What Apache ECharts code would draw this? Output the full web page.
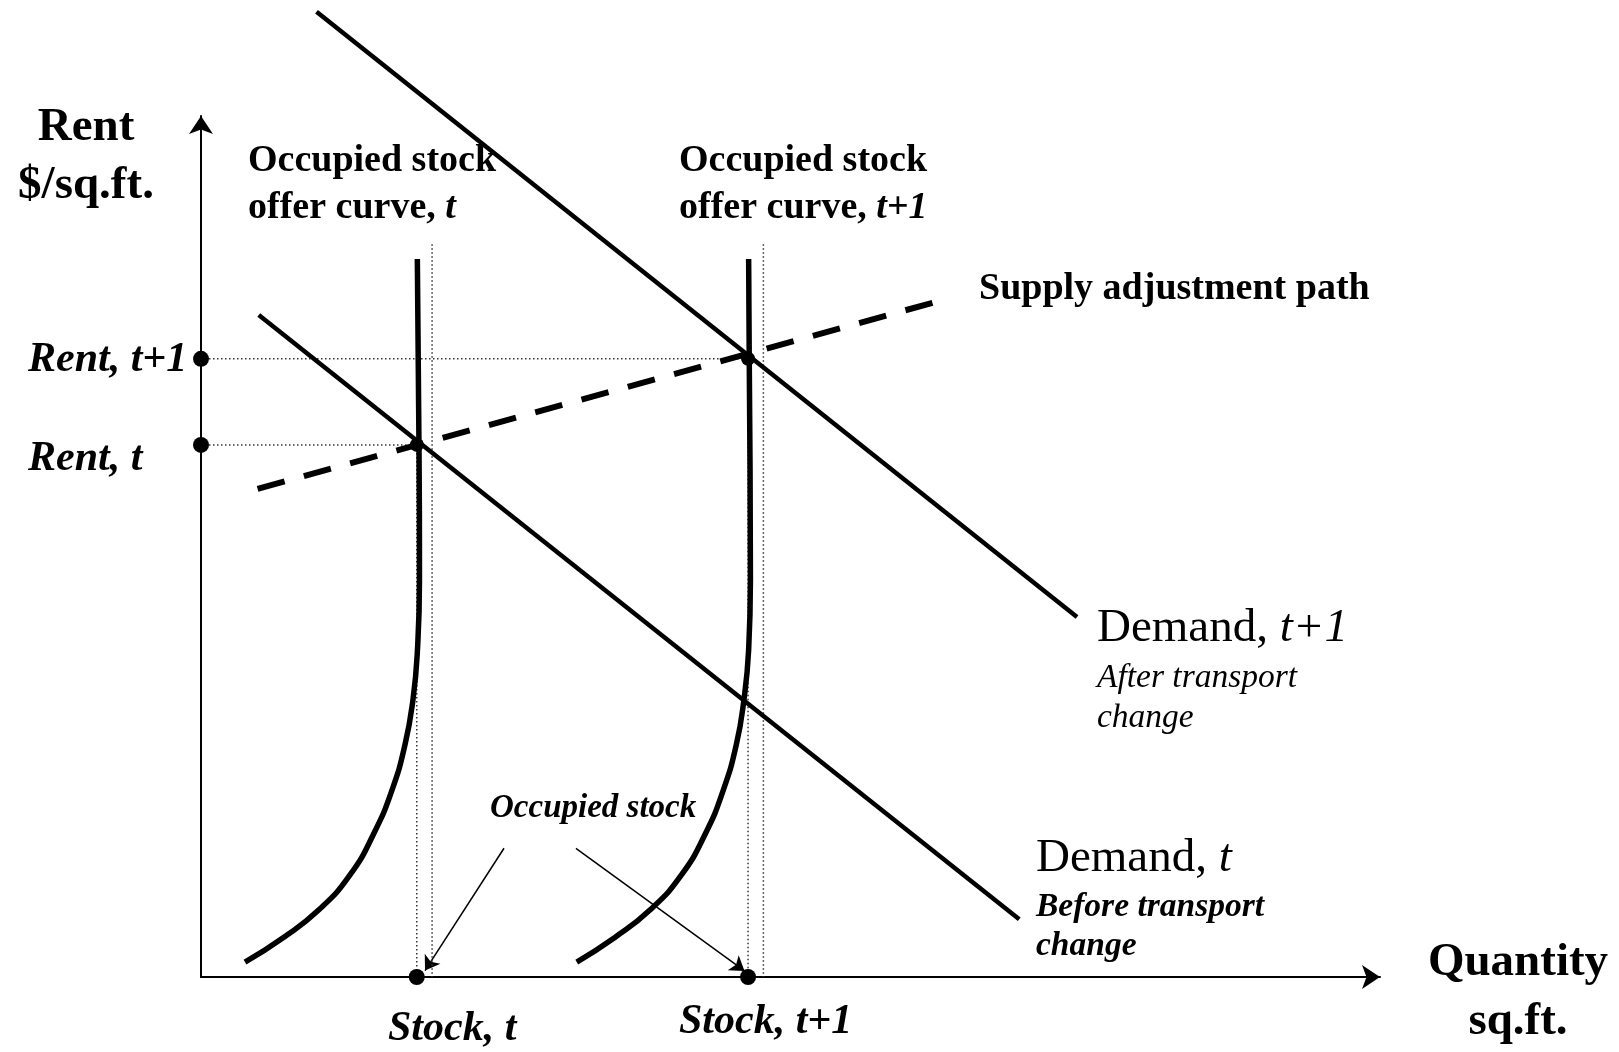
<!DOCTYPE html>
<html>
<head>
<meta charset="utf-8">
<title>Occupied stock offer curves</title>
<script src="https://cdn.jsdelivr.net/npm/echarts@6/dist/echarts.min.js"></script>
<style>
  html, body { margin: 0; padding: 0; background: #fff; }
  #main { width: 1619px; height: 1052px; }
</style>
</head>
<body>
<div id="main"></div>
<script>
// diagram units: quantity 0-100 on x, rent 0-100 on y
const demandT1 = [[9.8, 112.1], [74.3, 41.8]];
const demandT = [[4.9, 76.9], [69.4, 6.7]];
const supplyPath = [[4.8, 56.7], [62.3, 78.4]];

// offer curves, read top to bottom
const offerCurveT = [
  [18.35, 83.4], [18.49, 61.56], [18.53, 46.1], [18.36, 38.0], [17.98, 32.2],
  [17.3, 26.95], [16.2, 21.7], [14.67, 16.7], [12.64, 11.85], [10.0, 7.8],
  [7.0, 4.6], [3.73, 1.74]
];
const offerCurveT1 = [
  [46.45, 83.4], [46.5, 71.9], [46.6, 46.1], [46.45, 38.0], [46.05, 32.2],
  [45.4, 26.95], [44.3, 21.7], [42.8, 16.7], [40.75, 11.85], [38.1, 7.8],
  [35.1, 4.6], [31.87, 1.74]
];

const rentLevels = [61.8, 71.8];   // Rent t, Rent t+1
const stockLevels = [18.3, 46.4];  // Stock t, Stock t+1
const offerEdges = [19.6, 47.7];   // dotted lines just right of each curve
const edgeTop = 85.1;

const arrowFrom = [[25.7, 14.95], [31.8, 14.95]];
const arrowTo = [[19.0, 0.75], [46.1, 0.7]];

const F = '"Liberation Serif", "Times New Roman", serif';

const myChart = echarts.init(document.getElementById('main'));

function solid(data, width, extra) {
  return Object.assign({
    type: 'line', data: data, symbol: 'none', clip: false, silent: true,
    lineStyle: { color: '#000', width: width }
  }, extra || {});
}

function dotted(data) {
  return {
    type: 'line', data: data, symbol: 'none', clip: false, silent: true,
    lineStyle: { color: '#333', width: 1.5, type: [1.5, 2.5] }
  };
}

const series = [];
// guides
for (let i = 0; i < 2; i++) {
  series.push(dotted([[0, rentLevels[i]], [stockLevels[i], rentLevels[i]]]));
  series.push(dotted([[stockLevels[i], rentLevels[i]], [stockLevels[i], 0]]));
  series.push(dotted([[offerEdges[i], edgeTop], [offerEdges[i], 0]]));
}
series.push(solid(demandT1, 4.5));
series.push(solid(demandT, 4.5));
series.push(solid(supplyPath, 6, {
  lineStyle: { color: '#000', width: 6, type: [28, 20] }
}));
series.push(solid(offerCurveT, 5.5, { smooth: 0.5 }));
series.push(solid(offerCurveT1, 5.5, { smooth: 0.5 }));

// small arrows from "Occupied stock"
series.push({
  type: 'lines',
  coordinateSystem: 'cartesian2d',
  silent: true,
  symbol: ['none', 'arrow'],
  symbolSize: 14,
  lineStyle: { color: '#000', width: 1.5, opacity: 1 },
  data: arrowFrom.map((p, i) => ({ coords: [p, arrowTo[i]] }))
});

// dots on axes and at intersections
series.push({
  type: 'scatter', clip: false, silent: true, symbolSize: 16,
  itemStyle: { color: '#000', opacity: 1 }, z: 5,
  data: [
    [0, rentLevels[0]], [0, rentLevels[1]],
    [stockLevels[0], 0], [stockLevels[1], 0]
  ]
});
series.push({
  type: 'scatter', clip: false, silent: true, symbolSize: 14,
  itemStyle: { color: '#000', opacity: 1 }, z: 5,
  data: [[stockLevels[0], rentLevels[0]], [stockLevels[1], rentLevels[1]]]
});

function txt(x, y, text, size, weight, style, align, lineHeight, rich) {
  const s = {
    text: text, x: 0, y: 0,
    fontSize: size, fontFamily: F, fontWeight: weight, fontStyle: style,
    fill: '#000', textAlign: align || 'left', textVerticalAlign: 'middle'
  };
  if (lineHeight) s.lineHeight = lineHeight;
  if (rich) s.rich = rich;
  return { type: 'text', x: x, y: y, silent: true, z: 10, style: s };
}

function ital(size, weight) {
  return { i: { fontSize: size, fontFamily: F, fontWeight: weight, fontStyle: 'italic' } };
}

const graphic = [
  txt(86, 157, 'Rent\n$/sq.ft.', 47, 'bold', 'normal', 'center', 58),
  txt(1518, 992, 'Quantity\nsq.ft.', 47, 'bold', 'normal', 'center', 59),
  txt(248, 185, 'Occupied stock\noffer curve, {i|t}', 38, 'bold', 'normal', 'left', 47,
    { i: { fontSize: 38, fontFamily: F, fontWeight: 'bold', fontStyle: 'italic', lineHeight: 47 } }),
  txt(679, 185, 'Occupied stock\noffer curve, {i|t+1}', 38, 'bold', 'normal', 'left', 47,
    { i: { fontSize: 38, fontFamily: F, fontWeight: 'bold', fontStyle: 'italic', lineHeight: 47 } }),
  txt(979, 289, 'Supply adjustment path', 38, 'bold', 'normal'),
  txt(28, 360, 'Rent, t+1', 42, 'bold', 'italic'),
  txt(28, 459, 'Rent, t', 42, 'bold', 'italic'),
  txt(1097, 629, 'Demand, {i|t+1}', 47, 'normal', 'normal', 'left', null, ital(47, 'normal')),
  txt(1097, 698, 'After transport\nchange', 33.5, 'normal', 'italic', 'left', 39.5),
  txt(1036, 859, 'Demand, {i|t}', 47, 'normal', 'normal', 'left', null, ital(47, 'normal')),
  txt(1036, 927, 'Before transport\nchange', 33.5, 'bold', 'italic', 'left', 39),
  txt(490, 808, 'Occupied stock', 33, 'bold', 'italic'),
  txt(388, 1029, 'Stock, t', 42, 'bold', 'italic'),
  txt(679, 1022, 'Stock, t+1', 42, 'bold', 'italic')
];

const axisStyle = {
  show: true,
  symbol: ['none', 'arrow'],
  symbolSize: [18, 18],
  lineStyle: { color: '#000', width: 2 }
};

const option = {
  animation: false,
  backgroundColor: '#fff',
  grid: { left: 201, right: 239, top: 116, bottom: 75 },
  xAxis: {
    type: 'value', min: 0, max: 100,
    axisLine: axisStyle, axisTick: { show: false },
    axisLabel: { show: false }, splitLine: { show: false }
  },
  yAxis: {
    type: 'value', min: 0, max: 100,
    axisLine: axisStyle, axisTick: { show: false },
    axisLabel: { show: false }, splitLine: { show: false }
  },
  series: series,
  graphic: graphic
};

myChart.setOption(option);
</script>
</body>
</html>
